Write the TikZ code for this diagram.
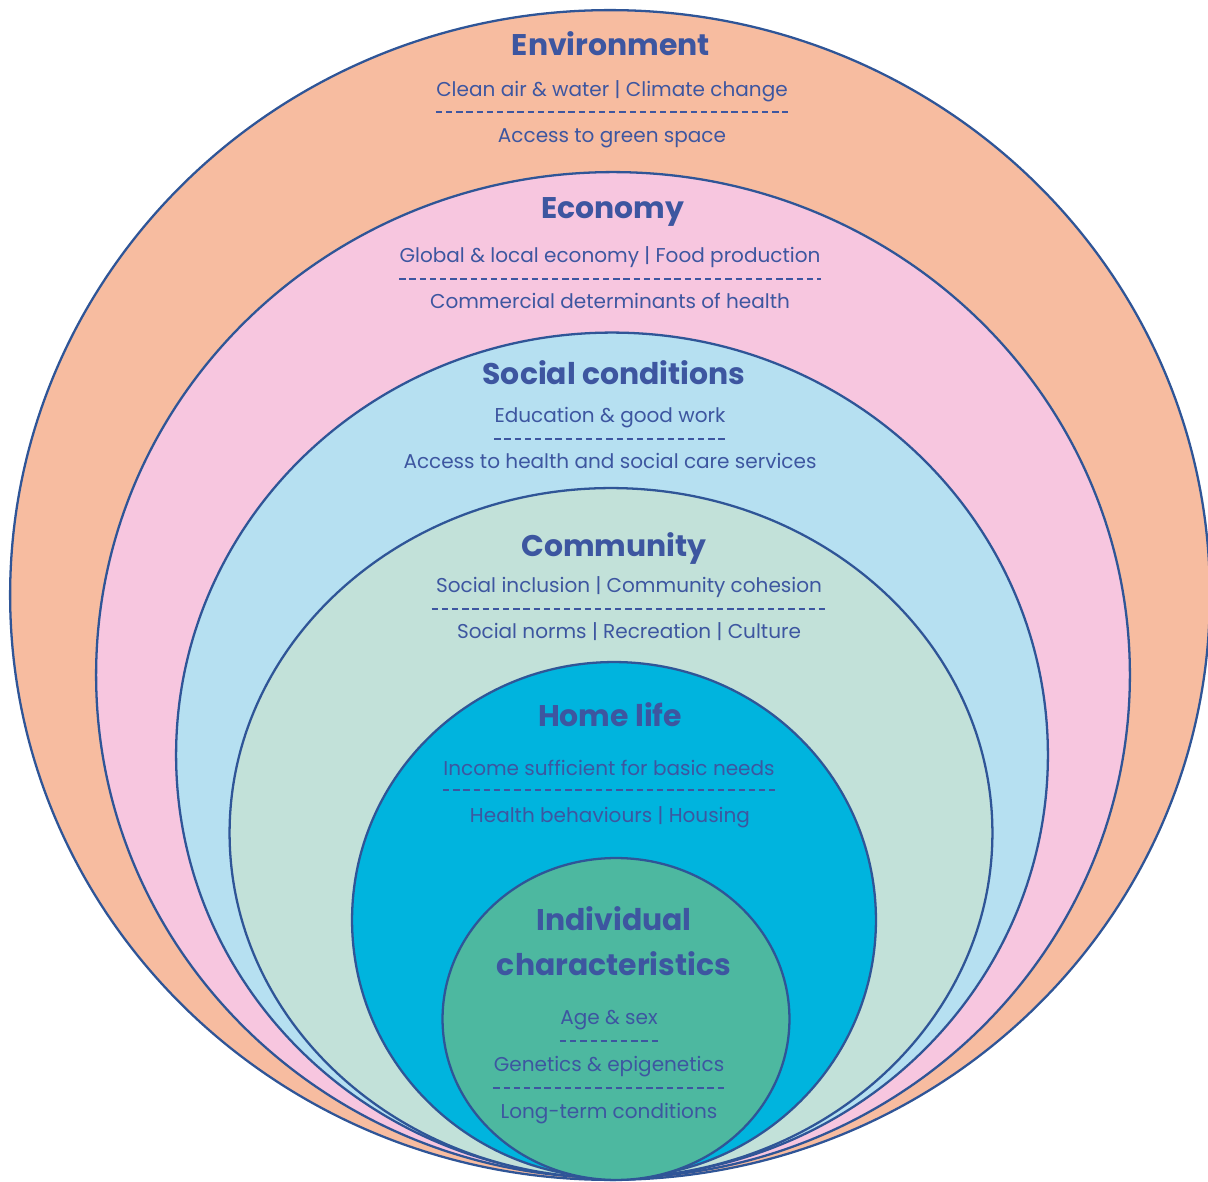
\documentclass[tikz,border=0pt]{standalone}
\usepackage{fontspec}
\setmainfont{Poppins}
\usepackage{tikz}
\usetikzlibrary{positioning,calc,shapes.geometric}
\definecolor{ink}{HTML}{2F5597}
\definecolor{txt}{HTML}{3D56A0}
\definecolor{envfill}{HTML}{F7BCA0}
\definecolor{ecofill}{HTML}{F7C6DF}
\definecolor{socfill}{HTML}{B6E0F1}
\definecolor{comfill}{HTML}{C2E1D9}
\definecolor{homefill}{HTML}{00B4DE}
\definecolor{indfill}{HTML}{4DB8A0}
\tikzset{
  ring/.style={ellipse, draw=ink, line width=1.3pt, inner sep=0pt},
  title/.style={font=\fontsize{17}{20}\selectfont\bfseries, text=txt, inner sep=0pt, anchor=base},
  item/.style={font=\fontsize{11.4}{13}\selectfont, text=txt, inner sep=0pt, anchor=base},
  sep/.style={draw=txt, line width=0.8pt, dash pattern=on 3.6pt off 2.2pt}
}

\begin{document}
\begin{tikzpicture}[x=0.02cm, y=-0.02cm]
\useasboundingbox (0,0) rectangle (1208,1182);
% nested layers, outermost first
\node[ring, fill=envfill, minimum width=24cm, minimum height=23.4cm] (env) at (610,595) {};
\node[ring, fill=ecofill, minimum width=20.68cm, minimum height=20.12cm] (eco) at (613,675) {};
\node[ring, fill=socfill, minimum width=17.44cm, minimum height=16.9cm] (soc) at (612,755) {};
\node[ring, fill=comfill, minimum width=15.26cm, minimum height=13.8cm] (com) at (611,833) {};
\node[ring, fill=homefill, minimum width=10.48cm, minimum height=10.32cm] (home) at (614,920) {};
\node[ring, fill=indfill, minimum width=6.94cm, minimum height=6.44cm] (ind) at (616,1019) {};

% Environment
\node[title] (envT) at (611,56) {Environment};
\node[item] (envA) at (612,97) {Clean air \& water | Climate change};
\node[item] (envB) at (612,143) {Access to green space};
\draw[sep] ($(envA.base west)+(0,15)$) -- ($(envA.base east)+(0,15)$);

% Economy
\node[title] (ecoT) at (613,219) {Economy};
\node[item] (ecoA) at (610,263) {Global \& local economy | Food production};
\node[item] (ecoB) at (610,309) {Commercial determinants of health};
\draw[sep] ($(ecoA.base west)+(0,16)$) -- ($(ecoA.base east)+(0,16)$);

% Social conditions
\node[title] (socT) at (614,385) {Social conditions};
\node[item] (socA) at (610,423) {Education \& good work};
\node[item] (socB) at (610,469) {Access to health and social care services};
\draw[sep] ($(socA.base west)+(0,16)$) -- ($(socA.base east)+(0,16)$);

% Community
\node[title] (comT) at (614,557) {Community};
\node[item] (comA) at (629,593) {Social inclusion | Community cohesion};
\node[item] (comB) at (629,639) {Social norms | Recreation | Culture};
\draw[sep] ($(comA.base west)+(-4,16)$) -- ($(comA.base east)+(4,16)$);

% Home life
\node[title] (homeT) at (610,726) {Home life};
\node[item] (homeA) at (609,775) {Income sufficient for basic needs};
\node[item] (homeB) at (610,822) {Health behaviours | Housing};
\draw[sep] ($(homeA.base west)+(0,15)$) -- ($(homeA.base east)+(0,15)$);

% Individual characteristics
\node[title] (indT) at (614,930) {Individual};
\node[title] (indU) at (614,975) {characteristics};
\node[item] (indA) at (609,1024) {Age \& sex};
\node[item] (indB) at (609,1071) {Genetics \& epigenetics};
\node[item] (indC) at (609,1118) {Long-term conditions};
\draw[sep] ($(indA.base west)+(0,17)$) -- ($(indA.base east)+(0,17)$);
\draw[sep] ($(indB.base west)+(0,17)$) -- ($(indB.base east)+(0,17)$);
\end{tikzpicture}
\end{document}
